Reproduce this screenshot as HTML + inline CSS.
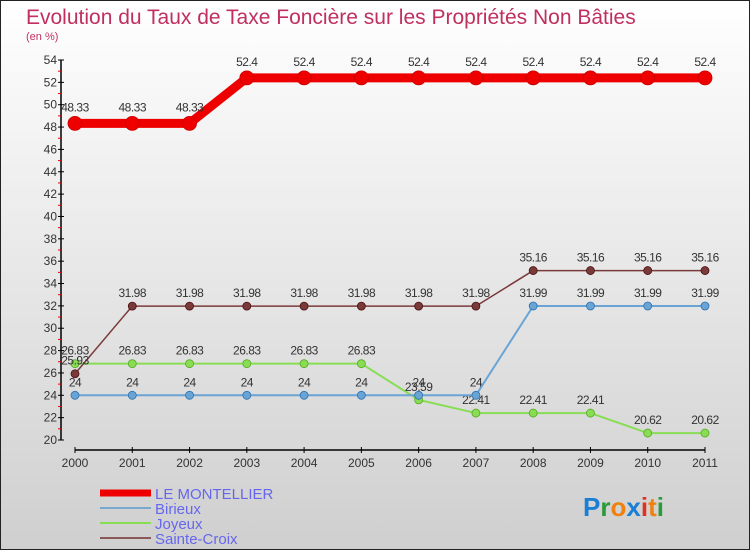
<!DOCTYPE html>
<html><head><meta charset="utf-8"><style>
body{margin:0}
#c{width:750px;height:550px;position:relative;box-sizing:border-box;border:1px solid #222;background:linear-gradient(#ffffff,#cfcfcf);font-family:"Liberation Sans","DejaVu Sans",sans-serif;overflow:hidden}
</style></head><body>
<div id="c">
<svg id="s" width="750" height="550" style="position:absolute;left:-1px;top:-1px">
<text x="26" y="24" font-size="21" fill="#c0305f">Evolution du Taux de Taxe Foncière sur les Propriétés Non Bâties</text>
<text x="26" y="40" font-size="11" fill="#c0305f">(en %)</text>
<g id="axes"></g><g id="series"></g><g id="legend"></g>
<text x="583" y="516" font-size="26" font-weight="bold"><tspan fill="#1a7fd4">P</tspan><tspan fill="#2a9a3a">r</tspan><tspan fill="#f08010">o</tspan><tspan fill="#1a7fd4">x</tspan><tspan fill="#e03020">i</tspan><tspan fill="#f08010">t</tspan><tspan fill="#2a9a3a">i</tspan></text>
</svg>
</div>
<script>
const years=[2000,2001,2002,2003,2004,2005,2006,2007,2008,2009,2010,2011];
const montellier=[48.33,48.33,48.33,52.4,52.4,52.4,52.4,52.4,52.4,52.4,52.4,52.4];
const birieux=[24,24,24,24,24,24,24,24,31.99,31.99,31.99,31.99];
const joyeux=[26.83,26.83,26.83,26.83,26.83,26.83,23.59,22.41,22.41,22.41,20.62,20.62];
const sainteCroix=[25.93,31.98,31.98,31.98,31.98,31.98,31.98,31.98,35.16,35.16,35.16,35.16];
const yTicks=[20,22,24,26,28,30,32,34,36,38,40,42,44,46,48,50,52,54];
const NS="http://www.w3.org/2000/svg";
const X=i=>75+i*(630/11);
const Y=v=>440-(v-20)*(380/34);
function mk(tag,attrs,parent,txt){const e=document.createElementNS(NS,tag);for(const k in attrs)e.setAttribute(k,attrs[k]);if(txt!==undefined)e.textContent=txt;parent.appendChild(e);return e;}
const ax=document.getElementById('axes');
let a=mk('line',{x1:61,y1:Y(54),x2:61,y2:Y(20),stroke:'#000','stroke-width':1.5},ax);


a=mk('line',{x1:75,y1:450,x2:705,y2:450,stroke:'#000','stroke-width':1.5},ax);


yTicks.forEach(t=>{
 mk('line',{x1:58,y1:Y(t),x2:64,y2:Y(t),stroke:'#000'},ax);
 if(t<54) mk('line',{x1:58,y1:Y(t+1),x2:61,y2:Y(t+1),stroke:'#e00'},ax);
 const l=mk('text',{x:57,y:Y(t)+4,'font-size':12,'text-anchor':'end',fill:'#333'},ax,String(t));
 
 
});
years.forEach((y,i)=>{
 mk('line',{x1:X(i),y1:447,x2:X(i),y2:453,stroke:'#000'},ax);
 const l=mk('text',{x:X(i),y:467,'font-size':12,'text-anchor':'middle',fill:'#333'},ax,String(y));
 
 
});
const sg=document.getElementById('series');
function series(vals,color,w,r,name,dark){
 const g=mk('g',{},sg);
 
 
 mk('polyline',{points:vals.map((v,i)=>X(i)+','+Y(v)).join(' '),fill:'none',stroke:color,'stroke-width':w,'stroke-linejoin':'round'},g);
 vals.forEach((v,i)=>{
  const c=mk('circle',{cx:X(i),cy:Y(v),r:r,fill:color,stroke:dark,'stroke-width':0.8},g);
  
  
  mk('text',{x:X(i),y:Y(v)-(r+5),'font-size':12,'text-anchor':'middle',fill:'#333','letter-spacing':'-0.5'},g,String(v));
 });
}
series(joyeux,'#88dd55',2,4,'series-joyeux','#55aa22');
series(birieux,'#6aa4d4',2,4,'series-birieux','#2a70b0');
series(sainteCroix,'#7a3a3a',1.5,4,'series-sainte-croix','#4a1010');
series(montellier,'#ee0000',9,7,'series-le-montellier','#cc0000');
const lg=document.getElementById('legend');
[['LE MONTELLIER','#ee0000',7],['Birieux','#7aa8cc',2],['Joyeux','#88dd55',2],['Sainte-Croix','#8a5a5a',2]].forEach((d,i)=>{
 const y=493+i*15;
 const g=mk('g',{},lg);
 
 
 mk('line',{x1:100,y1:y,x2:151,y2:y,stroke:d[1],'stroke-width':d[2]},g);
 mk('text',{x:155,y:y+6,'font-size':15,fill:'#6666ee'},g,d[0]);
});
</script>
</body></html>
